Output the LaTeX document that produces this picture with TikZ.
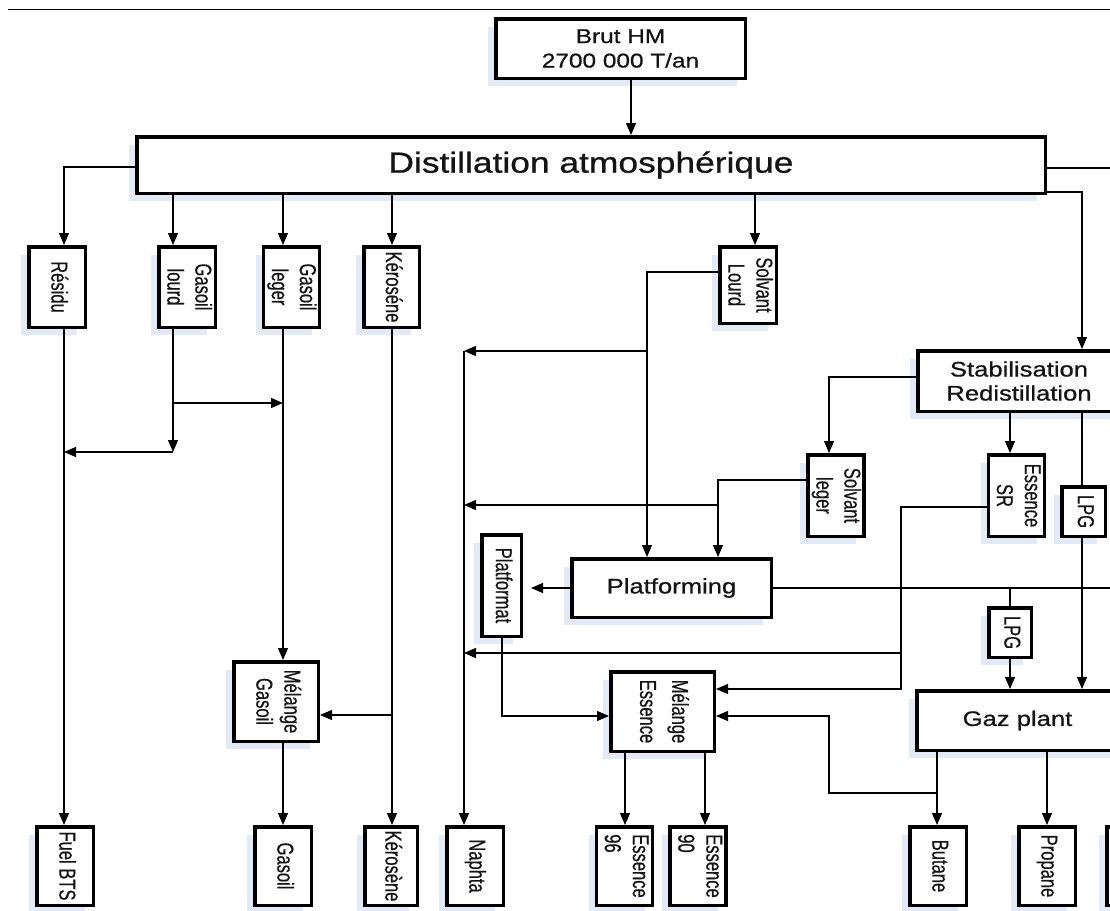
\documentclass[tikz,border=0pt]{standalone}
\usepackage{fontspec}
\usepackage{graphicx}
\setmainfont{Liberation Sans}
\newfontfamily\hfont{Liberation Sans}[FakeStretch=1.22,FakeBold=0.8]
\newfontfamily\vfont{Liberation Sans}[FakeStretch=0.72,FakeBold=0.6]
\usetikzlibrary{arrows.meta,shadows}
\definecolor{shadowc}{RGB}{226,234,248}
\definecolor{txt}{RGB}{20,20,20}
\newcommand{\vtxt}[1]{\rotatebox{-90}{\begin{tabular}{@{}c@{}}#1\end{tabular}}}
\newcommand{\vtxtl}[1]{\rotatebox{-90}{\begin{tabular}{@{}l@{}}#1\end{tabular}}}
\tikzset{
  box/.style={draw=black, line width=3.5pt, fill=white, inner sep=0pt, text=txt,
    general shadow={fill=shadowc, draw=none, shadow xshift=-8pt, shadow yshift=-8pt}},
  sz/.style 2 args={minimum width=#1pt, minimum height=#2pt},
  hbox/.style={box, align=center, font=\hfont\fontsize{21}{24}\selectfont},
  vbox/.style={box, font=\vfont\fontsize{23}{28}\selectfont},
  ln/.style={line width=1.2pt, draw=black},
  arr/.style={ln, -{Triangle[length=12pt,width=10pt]}}
}
\begin{document}
\begin{tikzpicture}[x=1pt,y=-1pt]
\useasboundingbox (0,0) rectangle (1110,910);
\clip (0,0) rectangle (1110,910);
\fill[white] (0,0) rectangle (1110,910);
\draw[line width=1.3pt] (8,9.5) -- (1110,9.5);

% boxes
\node[hbox, sz={249.5}{59.5}, font=\hfont\fontsize{20}{24.5}\selectfont] (brut) at (620.5,48.5) {Brut HM\\2700 000 T/an};
\node[hbox, sz={908.5}{56.5}, font=\hfont\fontsize{29}{32}\selectfont] (dist) at (591,165) {Distillation atmosphérique};
\node[vbox, sz={56.5}{80.5}] (residu) at (57,287) {\vtxt{Résidu}};
\node[vbox, sz={56.5}{80.5}] (glourd) at (187,287) {\vtxt{Gasoil\\lourd}};
\node[vbox, sz={55.5}{80.5}] (gleger) at (291.5,287) {\vtxt{Gasoil\\leger}};
\node[vbox, sz={55.5}{80.5}] (kero1) at (391.5,287) {\vtxt{Kéroséne}};
\node[vbox, sz={56.5}{76.5}] (slourd) at (748,285) {\vtxt{Solvant\\Lourd}};
\node[hbox, sz={202.5}{60.5}] (stab) at (1019,381) {Stabilisation\\Redistillation};
\node[vbox, sz={54.5}{81.5}] (sleger) at (836,495.5) {\vtxt{Solvant\\leger}};
\node[vbox, sz={55.5}{81.5}] (esr) at (1016.5,495.5) {\vtxt{Essence\\SR}};
\node[vbox, sz={43.5}{49.5}] (lpg1) at (1083.5,511.5) {\vtxt{LPG}};
\node[hbox, sz={199.5}{58.5}] (platforming) at (671.5,588) {Platforming};
\node[vbox, sz={39.5}{101.5}] (platformat) at (501.5,585.5) {\vtxt{Platformat}};
\node[vbox, sz={42.5}{49.5}] (lpg2) at (1010,632.5) {\vtxt{LPG}};
\node[hbox, sz={201.5}{59.5}] (gaz) at (1017.5,720.5) {Gaz plant};
\node[vbox, sz={84.5}{79.5}] (mgasoil) at (276,701.5) {\vtxt{Mélange\\Gasoil}};
\node[vbox, sz={103.5}{79.5}, font=\vfont\fontsize{23}{32}\selectfont] (messence) at (662.5,711.5) {\vtxt{Mélange\\Essence}};
\node[vbox, sz={56.5}{78.5}] (fuel) at (65,866) {\vtxt{Fuel BTS}};
\node[vbox, sz={56.5}{78.5}] (gasoil) at (283,866) {\vtxt{Gasoil}};
\node[vbox, sz={52.5}{78.5}] (kero2) at (391,866) {\vtxt{Kérosène}};
\node[vbox, sz={56.5}{78.5}] (naphta) at (475,866) {\vtxt{Naphta}};
\node[vbox, sz={55.5}{78.5}] (e96) at (624.5,866) {\vtxtl{Essence\\96}};
\node[vbox, sz={54.5}{78.5}] (e90) at (698,866) {\vtxtl{Essence\\90}};
\node[vbox, sz={56.5}{78.5}] (butane) at (938,866) {\vtxt{Butane}};
\node[vbox, sz={56.5}{78.5}] (propane) at (1047,866) {\vtxt{Propane}};
\node[vbox, sz={56.5}{78.5}] (partial) at (1135,866) {};

% lanes and connectors
\coordinate (kBr) at (631,0);
\draw[arr] (brut.south -| kBr) -- (dist.north -| kBr);

\coordinate (kRes) at (64,167);
\draw[arr] (dist.west |- kRes) -- (kRes) -- (residu.north -| kRes);
\coordinate (kGL) at (173,0);
\draw[arr] (dist.south -| kGL) -- (glourd.north -| kGL);
\coordinate (kGG) at (283,0);
\draw[arr] (dist.south -| kGG) -- (gleger.north -| kGG);
\coordinate (kK) at (392,0);
\draw[arr] (dist.south -| kK) -- (kero1.north -| kK);
\coordinate (kSL) at (755,0);
\draw[arr] (dist.south -| kSL) -- (slourd.north -| kSL);
\coordinate (kOut1) at (1120,168);
\draw[ln] (dist.east |- kOut1) -- (kOut1);
\coordinate (kSt) at (1082,192);
\draw[arr] (dist.east |- kSt) -- (kSt) -- (stab.north -| kSt);

\coordinate (kGLa) at (173,452);
\coordinate (kGLb) at (173,403);
\draw[arr] (glourd.south -| kGLa) -- (kGLa);
\draw[arr] (kGLb) -- (kGLb -| kGG);
\draw[arr] (kGLa) -- (kGLa -| kRes);
\draw[arr] (residu.south -| kRes) -- (fuel.north -| kRes);
\draw[arr] (gleger.south -| kGG) -- (mgasoil.north -| kGG);
\draw[arr] (kero1.south -| kK) -- (kero2.north -| kK);
\coordinate (kKb) at (392,715);
\draw[arr] (kKb) -- (mgasoil.east |- kKb);
\draw[arr] (mgasoil.south -| kGG) -- (gasoil.north -| kGG);

\coordinate (kP1) at (647,272);
\coordinate (kP1b) at (647,351);
\coordinate (kN) at (464,351);
\draw[arr] (slourd.west |- kP1) -- (kP1) -- (platforming.north -| kP1);
\draw[arr] (kP1b) -- (kN);
\draw[arr] (kN) -- (naphta.north -| kN);

\coordinate (kSLg) at (829,377);
\draw[arr] (stab.west |- kSLg) -- (kSLg) -- (sleger.north -| kSLg);
\coordinate (kESR) at (1010,0);
\draw[arr] (stab.south -| kESR) -- (esr.north -| kESR);
\draw[ln] (stab.south -| kSt) -- (lpg1.north -| kSt);
\draw[arr] (lpg1.south -| kSt) -- (gaz.north -| kSt);

\coordinate (kP2) at (718,480);
\coordinate (kP2b) at (718,505);
\draw[arr] (sleger.west |- kP2) -- (kP2) -- (platforming.north -| kP2);
\draw[arr] (kP2b) -- (kP2b -| kN);

\draw[arr, shorten >=8pt] (platforming.west) -- (platformat.east |- platforming.west);
\coordinate (kOut2) at (1120,0);
\draw[ln] (platforming.east) -- (platforming.east -| kOut2);
\draw[ln] (platforming.east -| kESR) -- (lpg2.north -| kESR);
\draw[arr] (lpg2.south -| kESR) -- (gaz.north -| kESR);

\coordinate (kE1) at (901,507);
\coordinate (kE2) at (901,689);
\coordinate (kE3) at (901,653);
\draw[arr] (esr.west |- kE1) -- (kE1) -- (kE2) -- (messence.east |- kE2);
\draw[arr] (kE3) -- (kE3 -| kN);

\coordinate (kPf) at (502,716);
\draw[arr] (platformat.south -| kPf) -- (kPf) -- (messence.west |- kPf);

\coordinate (kBu) at (937,793);
\coordinate (kBu3) at (829,793);
\coordinate (kBu4) at (829,716);
\draw[arr] (gaz.south -| kBu) -- (butane.north -| kBu);
\draw[arr] (kBu) -- (kBu3) -- (kBu4) -- (messence.east |- kBu4);
\coordinate (kPr) at (1047,0);
\draw[arr] (gaz.south -| kPr) -- (propane.north -| kPr);

\coordinate (kM1) at (625,0);
\coordinate (kM2) at (705,0);
\draw[arr] (messence.south -| kM1) -- (e96.north -| kM1);
\draw[arr] (messence.south -| kM2) -- (e90.north -| kM2);
\end{tikzpicture}
\end{document}
